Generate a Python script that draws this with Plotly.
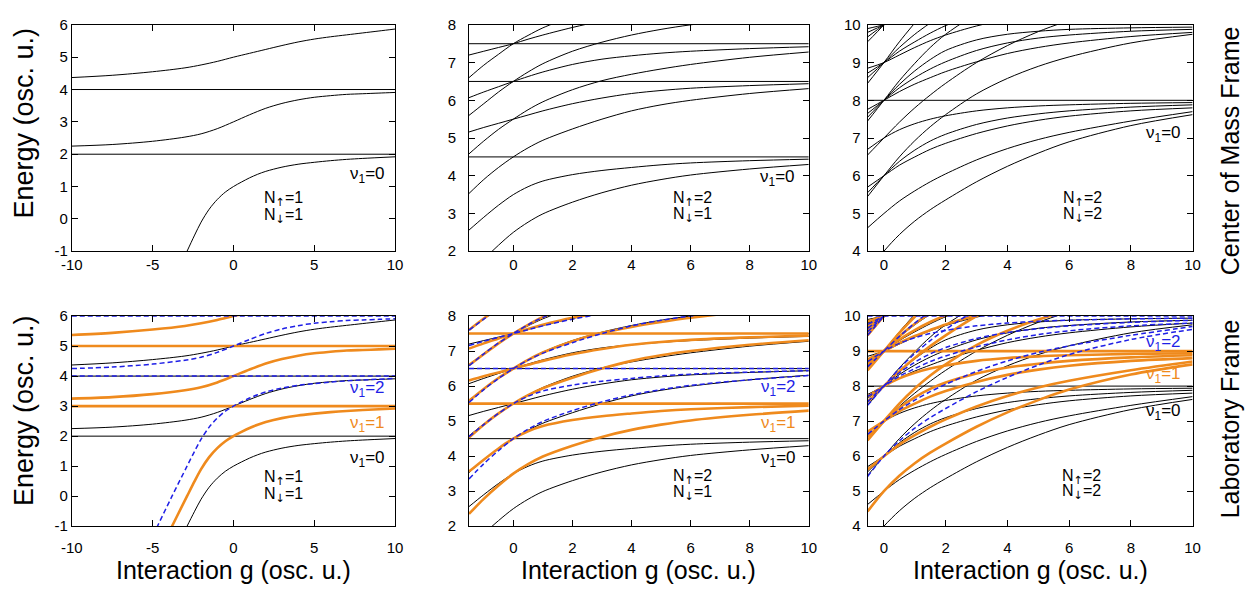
import plotly.graph_objects as go

# ---------------- data (energies, centre-of-mass frame, nu1 = 0) ----------------
# N_up = 1, N_down = 1
g11_low = [-6.0, -5.5, -4.7, -3.8, -2.87, -2.4, -2.0, -1.5, -1.0, -0.5, 0, 0.5, 1, 1.5, 2, 3, 4, 5, 6, 7, 8, 10]
e11_low = [-4.5, -3.92, -3.0, -2.0, -1.0, -0.5, -0.1, 0.3, 0.6, 0.83, 1.0, 1.14, 1.27, 1.38, 1.47, 1.6, 1.69, 1.75, 1.8, 1.84, 1.87, 1.92]
g11 = [-10, -7.5, -5, -3, -2, -1, 0, 1, 2, 3, 4, 5, 6, 7, 8, 9, 10]
e11_mid = [2.25, 2.3, 2.4, 2.53, 2.63, 2.79, 3.0, 3.22, 3.42, 3.57, 3.68, 3.76, 3.81, 3.85, 3.87, 3.89, 3.91]
e11_top = [4.37, 4.44, 4.55, 4.67, 4.76, 4.87, 5.0, 5.12, 5.24, 5.36, 5.47, 5.56, 5.63, 5.69, 5.75, 5.81, 5.87]
h11 = [2, 4]

# N_up = 2, N_down = 1
g21 = [-1.5, -1, -0.5, 0, 0.5, 1, 2, 3, 4, 5, 6, 8, 10]
e21_1 = [1.35, 1.78, 2.16, 2.5, 2.77, 2.99, 3.3, 3.55, 3.75, 3.9, 4.02, 4.18, 4.3]
e21_2 = [2.56, 2.9, 3.22, 3.5, 3.71, 3.86, 4.03, 4.14, 4.22, 4.29, 4.34, 4.4, 4.44]
e21_3 = [3.53, 3.9, 4.22, 4.5, 4.74, 4.94, 5.24, 5.5, 5.72, 5.88, 6.0, 6.18, 6.31]
e21_4 = [4.58, 4.92, 5.23, 5.5, 5.75, 5.96, 6.28, 6.52, 6.69, 6.83, 6.95, 7.14, 7.28]
e21_5 = [5.16, 5.28, 5.39, 5.5, 5.61, 5.72, 5.91, 6.06, 6.18, 6.26, 6.32, 6.39, 6.44]
e21_6 = [5.6, 5.91, 6.22, 6.5, 6.75, 6.97, 7.3, 7.54, 7.73, 7.88, 8.0, 8.18, 8.3]
e21_7 = [6.07, 6.22, 6.36, 6.5, 6.63, 6.75, 6.95, 7.09, 7.18, 7.25, 7.3, 7.37, 7.42]
e21_8 = [6.6, 6.93, 7.22, 7.5, 7.72, 7.92, 8.22, 8.45, 8.62]
e21_9 = [7.2, 7.3, 7.4, 7.5, 7.62, 7.73, 7.93, 8.1, 8.22, 8.32]
h21 = [4.5, 6.5, 7.5]

# N_up = 2, N_down = 2
g22 = [-0.53, 0, 0.5, 1, 1.5, 2, 3, 4, 5, 6, 8, 10]
e22_1 = [3.42, 4.0, 4.44, 4.8, 5.1, 5.36, 5.84, 6.25, 6.6, 6.9, 7.33, 7.62]
e22_2 = [4.62, 5.0, 5.33, 5.6, 5.84, 6.05, 6.42, 6.72, 6.96, 7.15, 7.45, 7.7]
e22_3 = [5.45, 6.0, 6.5, 6.93, 7.3, 7.62, 8.17, 8.58, 8.9, 9.15, 9.52, 9.75]
e22_4 = [5.55, 6.0, 6.38, 6.68, 6.92, 7.1, 7.36, 7.53, 7.64, 7.72, 7.82, 7.88]
e22_5 = [5.7, 6.0, 6.28, 6.5, 6.7, 6.86, 7.12, 7.32, 7.47, 7.58, 7.72, 7.8]
e22_6 = [6.55, 7.0, 7.42, 7.8, 8.14, 8.45, 9.0, 9.45, 9.82, 10.12]
e22_7 = [6.7, 7.0, 7.22, 7.38, 7.5, 7.59, 7.72, 7.8, 7.85, 7.88, 7.92, 7.94]
e22_8 = [7.45, 8.0, 8.52, 8.98, 9.4, 9.75, 10.3]
e22_9 = [7.55, 8.0, 8.42, 8.78, 9.08, 9.32, 9.6, 9.75, 9.83, 9.88, 9.92, 9.94]
e22_10 = [7.65, 8.0, 8.33, 8.6, 8.83, 9.02, 9.32, 9.52, 9.65, 9.73, 9.83, 9.88]
e22_11 = [7.76, 8.0, 8.23, 8.43, 8.6, 8.76, 9.02, 9.24, 9.4, 9.52, 9.69, 9.8]
e22_12 = [8.45, 9.0, 9.55, 10.05]
e22_13 = [8.6, 9.0, 9.4, 9.75, 10.05]
e22_14 = [8.72, 9.0, 9.3, 9.55, 9.78, 9.98, 10.3]
e22_15 = [8.85, 9.0, 9.2, 9.4, 9.58, 9.73, 9.97, 10.15]
e22_16 = [9.55, 10.0, 10.45]
e22_17 = [9.68, 10.0, 10.3]
e22_18 = [9.8, 10.0, 10.2]
e22_19 = [9.9, 10.0, 10.1]
h22 = [8]

# centre-of-mass excitation shown in the laboratory frame
nu1_values = [0, 1, 2]

# tick labels
xt11 = [-10, -5, 0, 5, 10]
yt11 = [-1, 0, 1, 2, 3, 4, 5, 6]
xt2 = [0, 2, 4, 6, 8, 10]
yt21 = [2, 3, 4, 5, 6, 7, 8]
yt22 = [4, 5, 6, 7, 8, 9, 10]

# ---------------- figure ----------------
W, H = 1259, 600
FONT = "Liberation Sans, Arial, sans-serif"
ORANGE = "#ef8a1d"
BLUE = "#1f1fe6"
STYLES = {0: dict(color="black", width=1.0),
          1: dict(color=ORANGE, width=2.6),
          2: dict(color=BLUE, width=1.5, dash="5px,3px")}
LABEL_COLORS = {0: "black", 1: ORANGE, 2: BLUE}
UP = "<span style=\"font-family:DejaVu Sans\">↑</span>"
DOWN = "<span style=\"font-family:DejaVu Sans\">↓</span>"

panels = [
    dict(curves=[(g11_low, e11_low), (g11, e11_mid), (g11, e11_top)], h=h11,
         xr=[-10, 10], yr=[-1, 6], xt=xt11, yt=yt11, ystand=0,
         nu_lab=(9.5, [3.58, 2.42, 1.23]), nu_cm=(9.5, 1.37),
         n_lab=(3.1, 0.59, 0.05), n_cm=(3.1, 0.62, 0.08), n=("1", "1")),
    dict(curves=[(g21, e) for e in [e21_1, e21_2, e21_3, e21_4, e21_5, e21_6, e21_7, e21_8, e21_9]], h=h21,
         xr=[-1.5, 10], yr=[2, 8], xt=xt2, yt=yt21, ystand=9,
         nu_lab=(9.65, [5.95, 4.93, 3.93]), nu_cm=(9.6, 3.95),
         n_lab=(6.07, 3.4, 2.94), n_cm=(6.07, 3.39, 2.95), n=("2", "1")),
    dict(curves=[(g22, e) for e in [e22_1, e22_2, e22_3, e22_4, e22_5, e22_6, e22_7, e22_8, e22_9, e22_10,
                                    e22_11, e22_12, e22_13, e22_14, e22_15, e22_16, e22_17, e22_18, e22_19]],
         h=h22, xr=[-0.53, 10], yr=[4, 10], xt=xt2, yt=yt22, ystand=3,
         nu_lab=(9.7, [9.24, 8.32, 7.25]), nu_cm=(9.7, 7.12),
         n_lab=(6.4, 5.4, 4.99), n_cm=(6.42, 5.39, 4.95), n=("2", "2")),
]

x_dom = [(61.7, 390.0), (465.0, 810.0), (869.7, 1199.7)]
y_dom = [(16.3, 249.3), (316.0, 532.3)]   # top row, bottom row (pixels from top)
x_stand = [0, 8]                           # x tick-label standoff per row

fig = go.Figure()
annotations = []
layout_axes = {}


def ax_style(rng, tv, dom, anchor, standoff):
    return dict(range=rng, domain=dom, anchor=anchor, tickvals=tv, ticktext=[str(v) for v in tv],
                showline=True, linecolor="black", linewidth=1, mirror="ticks",
                ticks="inside", ticklen=6, tickcolor="black", tickwidth=1,
                showgrid=False, zeroline=False, ticklabelstandoff=standoff,
                tickfont=dict(family=FONT, size=15, color="black"))


for row in range(2):
    for col, p in enumerate(panels):
        idx = row * 3 + col + 1
        xs = "x" if idx == 1 else f"x{idx}"
        ys = "y" if idx == 1 else f"y{idx}"
        xd = [x_dom[col][0] / W, x_dom[col][1] / W]
        yd = [1 - y_dom[row][1] / H, 1 - y_dom[row][0] / H]
        layout_axes["xaxis" if idx == 1 else f"xaxis{idx}"] = ax_style(p["xr"], p["xt"], xd, ys, x_stand[row])
        layout_axes["yaxis" if idx == 1 else f"yaxis{idx}"] = ax_style(p["yr"], p["yt"], yd, xs, p["ystand"])

        nus = [0] if row == 0 else nu1_values
        for nu in nus:
            st = STYLES[nu]
            for g, e in p["curves"]:
                fig.add_trace(go.Scatter(x=g[:len(e)], y=[v + nu for v in e], mode="lines",
                                         line=dict(shape="spline", smoothing=0.9, **st),
                                         xaxis=xs, yaxis=ys, hoverinfo="skip", showlegend=False))
            for hv in p["h"]:
                fig.add_trace(go.Scatter(x=p["xr"], y=[hv + nu, hv + nu], mode="lines", line=st,
                                         xaxis=xs, yaxis=ys, hoverinfo="skip", showlegend=False))

        # labels
        if row == 0:
            nx, ny = p["nu_cm"]
            annotations.append(dict(x=nx, y=ny, xref=xs, yref=ys, xanchor="right", yanchor="middle",
                                    text="ν<sub>1</sub>=0", showarrow=False,
                                    font=dict(family=FONT, size=17, color="black")))
            cx, y1, y2 = p["n_cm"]
        else:
            nx, nys = p["nu_lab"]
            for k, nu in enumerate([2, 1, 0]):
                annotations.append(dict(x=nx, y=nys[k], xref=xs, yref=ys, xanchor="right", yanchor="middle",
                                        text=f"ν<sub>1</sub>={nu}", showarrow=False,
                                        font=dict(family=FONT, size=17, color=LABEL_COLORS[nu])))
            cx, y1, y2 = p["n_lab"]
        annotations.append(dict(x=cx, y=y1, xref=xs, yref=ys, xanchor="center", yanchor="middle",
                                text=f"N<sub>{UP}</sub>={p['n'][0]}", showarrow=False,
                                font=dict(family=FONT, size=16, color="black")))
        annotations.append(dict(x=cx, y=y2, xref=xs, yref=ys, xanchor="center", yanchor="middle",
                                text=f"N<sub>{DOWN}</sub>={p['n'][1]}", showarrow=False,
                                font=dict(family=FONT, size=16, color="black")))

# axis titles / frame titles
for py in (117, 413):
    annotations.append(dict(x=13 / W, y=1 - py / H, xref="paper", yref="paper", text="Energy (osc. u.)",
                            textangle=-90, showarrow=False, xanchor="center", yanchor="middle",
                            font=dict(family=FONT, size=27, color="black")))
for col in range(3):
    cxp = (x_dom[col][0] + x_dom[col][1]) / 2
    annotations.append(dict(x=cxp / W, y=1 - 577 / H, xref="paper", yref="paper",
                            text="Interaction g (osc. u.)", showarrow=False, xanchor="center",
                            yanchor="middle", font=dict(family=FONT, size=25, color="black")))
for py, txt in ((146, "Center of Mass Frame"), (422, "Laboratory Frame")):
    annotations.append(dict(x=1238 / W, y=1 - py / H, xref="paper", yref="paper", text=txt,
                            textangle=-90, showarrow=False, xanchor="center", yanchor="middle",
                            font=dict(family=FONT, size=25, color="black")))

fig.update_layout(width=W, height=H, margin=dict(l=0, r=0, t=0, b=0),
                  paper_bgcolor="white", plot_bgcolor="white",
                  annotations=annotations, showlegend=False, **layout_axes)

fig.write_html("out.html")
